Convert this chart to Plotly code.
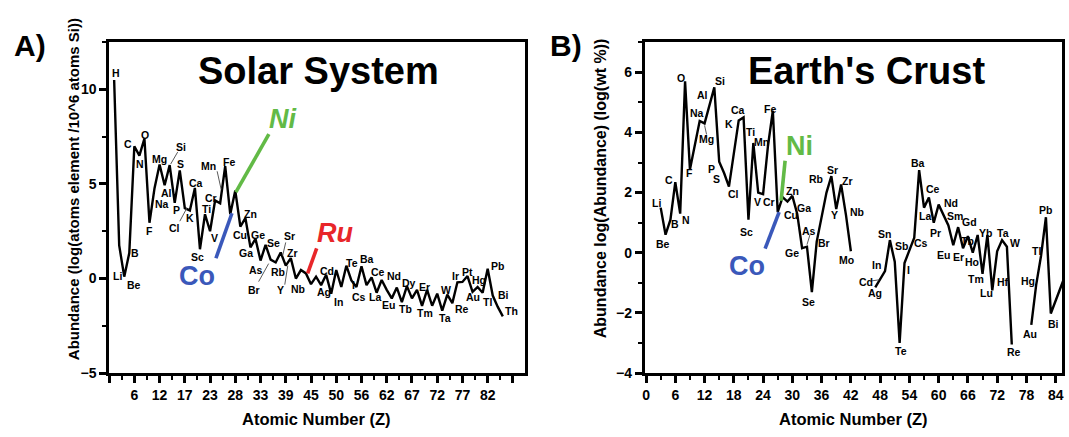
import plotly.graph_objects as go

# ---------------- data ----------------
# Panel A: Solar System abundances, log(atoms element / 10^6 atoms Si), plotted by element order
left_symbols = ["H", "Li", "Be", "B", "C", "N", "O", "F", "Na", "Mg", "Al", "Si", "P", "S", "Cl",
                "K", "Ca", "Sc", "Ti", "V", "Cr", "Mn", "Fe", "Co", "Ni", "Cu", "Zn", "Ga", "Ge",
                "As", "Se", "Br", "Rb", "Sr", "Y", "Zr", "Nb", "Mo", "Ru", "Rh", "Pd", "Ag", "Cd",
                "In", "Sn", "Sb", "Te", "I", "Cs", "Ba", "La", "Ce", "Pr", "Nd", "Sm", "Eu", "Gd",
                "Tb", "Dy", "Ho", "Er", "Tm", "Yb", "Lu", "Hf", "Ta", "W", "Re", "Os", "Ir", "Pt",
                "Au", "Hg", "Tl", "Pb", "Bi", "Th", "U"]
left_values = [10.5, 1.75, 0.1, 1.35, 7.0, 6.5, 7.4, 2.95, 4.78, 6.03, 4.93, 6.0, 4.0, 5.72, 3.72,
               3.6, 4.79, 1.55, 3.4, 2.5, 4.13, 3.98, 5.95, 3.4, 4.65, 2.75, 3.2, 1.65, 2.1,
               0.95, 1.78, 1.0, 0.85, 1.38, 0.68, 1.08, 0.0, 0.45, 0.27, -0.3, 0.1, -0.35, 0.2,
               -0.8, 0.45, -0.45, 0.68, -0.1, -0.45, 0.65, -0.35, 0.06, -0.75, -0.08, -0.6, -1.05, -0.48,
               -1.25, -0.4, -1.05, -0.6, -1.45, -0.6, -1.44, -0.8, -1.7, -0.85, -1.3, -0.2, -0.18, 0.13,
               -0.7, -0.45, -0.75, 0.52, -0.9, -1.5, -2.0]
left_tick_pos = [0, 5, 10, 15, 20, 25, 30, 35, 40, 45, 50, 55, 60, 65, 70, 75, 80]
left_tick_text = ["", "6", "12", "17", "23", "28", "33", "39", "45", "50", "56", "62", "67", "72",
                  "77", "82", ""]
left_labelled = ["H", "Li", "Be", "B", "C", "N", "O", "F", "Na", "Mg", "Al", "Si", "P", "S", "Cl",
                 "K", "Ca", "Sc", "Ti", "V", "Cr", "Mn", "Fe", "Cu", "Zn", "Ga", "Ge", "As", "Se",
                 "Br", "Rb", "Sr", "Y", "Zr", "Nb", "Ag", "Cd", "In", "Te", "I", "Cs", "Ba", "La",
                 "Ce", "Nd", "Eu", "Tb", "Dy", "Er", "Tm", "Ta", "W", "Re", "Ir", "Pt", "Au", "Hg",
                 "Tl", "Pb", "Bi", "Th"]

# Panel B: Earth's crust abundances, log(Abundance), plotted by atomic number
right_symbols = ["Li", "Be", "B", "C", "N", "O", "F", "Na", "Mg", "Al", "Si", "P", "S", "Cl",
                 "K", "Ca", "Sc", "Ti", "V", "Cr", "Mn", "Fe", "Co", "Ni", "Cu", "Zn", "Ga", "Ge",
                 "As", "Se", "Br", "Rb", "Sr", "Y", "Zr", "Nb", "Mo", "Ag", "Cd", "In", "Sn", "Sb",
                 "Te", "I", "Cs", "Ba", "La", "Ce", "Pr", "Nd", "Sm", "Eu", "Gd", "Tb", "Dy", "Ho",
                 "Er", "Tm", "Yb", "Lu", "Hf", "Ta", "W", "Re", "Au", "Hg", "Tl", "Pb", "Bi", "Th"]
right_z = [3, 4, 5, 6, 7, 8, 9, 11, 12, 13, 14, 15, 16, 17,
           19, 20, 21, 22, 23, 24, 25, 26, 27, 28, 29, 30, 31, 32,
           33, 34, 35, 37, 38, 39, 40, 41, 42, 47, 48, 49, 50, 51,
           52, 53, 55, 56, 57, 58, 59, 60, 62, 63, 64, 65, 66, 67,
           68, 69, 70, 71, 72, 73, 74, 75, 79, 80, 81, 82, 83, 90]
right_values = [1.5, 0.6, 1.1, 2.35, 1.3, 5.7, 2.77, 4.38, 4.3, 4.93, 5.5, 3.03, 2.65, 2.2,
                4.4, 4.5, 1.1, 3.65, 2.0, 1.95, 3.55, 4.72, 1.35, 1.85, 1.7, 1.89, 1.29, 0.15,
                0.2, -1.31, 0.37, 2.0, 2.55, 1.45, 2.27, 1.25, 0.05, -1.15, -0.9, -0.61, 0.42, -0.3,
                -3.0, -0.34, 0.5, 2.75, 1.5, 1.84, 1.0, 1.6, 0.91, 0.25, 0.85, 0.15, 0.55, 0.0,
                0.59, -0.7, 0.59, -1.25, 0.05, 0.42, 0.2, -3.05, -2.4, -1.07, -0.1, 1.18, -2.02, 0.98]
right_break_after = ["Mo", "Re"]
right_tick_pos = [0, 6, 12, 18, 24, 30, 36, 42, 48, 54, 60, 66, 72, 78, 84]
right_labelled = ["Li", "Be", "B", "C", "N", "O", "F", "Na", "Mg", "Al", "Si", "P", "S", "Cl",
                  "K", "Ca", "Sc", "Ti", "V", "Cr", "Mn", "Fe", "Cu", "Zn", "Ga", "Ge", "As", "Se",
                  "Br", "Rb", "Sr", "Y", "Zr", "Nb", "Mo", "Ag", "Cd", "In", "Sn", "Sb", "Te", "I",
                  "Cs", "Ba", "La", "Ce", "Pr", "Nd", "Sm", "Eu", "Gd", "Tb", "Ho", "Er", "Tm", "Yb",
                  "Lu", "Hf", "Ta", "W", "Re", "Au", "Hg", "Tl", "Pb", "Bi"]

# ---------------- label placement (pixel offsets: dx right, dy up) ----------------
left_label_offsets = {
    "H": (2, 7), "Li": (-2, -31), "Be": (10, -8), "B": (6, 0), "C": (-6, 2), "N": (1, -8),
    "O": (1, 4), "F": (0, -8), "Na": (7, -16), "Mg": (0, 6), "Al": (2, -8), "Si": (11, 18),
    "P": (2, -7), "S": (1, 6), "Cl": (-10, -20), "K": (0, -8), "Ca": (1, 5), "Sc": (-2, -8),
    "Ti": (1, 5), "V": (4, -7), "Cr": (-4, 2), "Mn": (-12, 37), "Fe": (4, 4), "Cu": (0, -8),
    "Zn": (5, 4), "Ga": (-4, -6), "Ge": (3, 4), "As": (-5, -9), "Se": (8, 2), "Br": (-17, -30),
    "Rb": (2, -10), "Sr": (9, 16), "Y": (-5, -24), "Zr": (2, 5), "Nb": (2, -10), "Ag": (3, -7),
    "Cd": (1, 4), "In": (7, -8), "Te": (6, 3), "I": (2, -5), "Cs": (3, -10), "Ba": (6, 7),
    "La": (8, -12), "Ce": (6, 5), "Nd": (12, 4), "Eu": (-3, -7), "Tb": (4, -7), "Dy": (2, 3),
    "Er": (7, 3), "Tm": (3, -7), "Ta": (3, -7), "W": (-1, 5), "Re": (10, -6), "Ir": (-7, 6),
    "Pt": (0, 4), "Au": (0, -5), "Hg": (1, 7), "Tl": (5, -9), "Pb": (10, 3), "Bi": (11, 1),
    "Th": (14, -4),
}
left_leaders = {"Si": (8, 13, 1, 1), "Mn": (-3, 32, 1, 14), "Cl": (-5, -13, 2, 0),
                "Br": (-12, -22, -2, -4), "Sr": (5, 10, 2, -3), "Y": (-1, -19, 2, 0)}

right_label_offsets = {
    "Li": (-4, 5), "Be": (-3, -9), "B": (5, -4), "C": (-6, 2), "N": (6, -6), "O": (-4, 3),
    "F": (0, -4), "Na": (-3, 8), "Mg": (2, -16), "Al": (-7, 9), "Si": (6, 6), "P": (-8, -7),
    "S": (-8, -6), "Cl": (5, -7), "K": (-10, -4), "Ca": (-6, 7), "Sc": (-2, -12), "Ti": (-3, 11),
    "V": (-1, -9), "Cr": (6, -8), "Mn": (-6, 4), "Fe": (-3, 2), "Cu": (4, -13), "Zn": (0, 5),
    "Ga": (7, 6), "Ge": (-10, -5), "As": (2, 16), "Se": (-3, -10), "Br": (7, -1), "Rb": (-10, 14),
    "Sr": (1, 6), "Y": (-2, -6), "Zr": (6, 3), "Nb": (11, 3), "Mo": (-4, -9), "Ag": (0, -6),
    "Cd": (-14, -2), "In": (-8, 6), "Sn": (-5, 6), "Sb": (7, 16), "Te": (1, -8), "I": (4, -7),
    "Cs": (7, -5), "Ba": (-1, 7), "La": (1, -8), "Ce": (4, 8), "Pr": (2, -10), "Nd": (12, 2),
    "Sm": (7, 9), "Eu": (-10, -10), "Gd": (11, 5), "Tb": (4, 7), "Ho": (-1, -9), "Er": (-19, -22),
    "Tm": (-7, -5), "Yb": (-2, 2), "Lu": (-6, -3), "Hf": (6, -31), "Ta": (1, 7), "W": (8, 4),
    "Re": (2, -8), "Au": (-1, -9), "Hg": (-8, 4), "Tl": (-5, 5), "Pb": (0, 7), "Bi": (3, -11),
}
right_leaders = {"Mg": (2, -11, 0, -2), "As": (3, 12, 0, 2), "Cd": (-8, -1, -1, 0)}

GREEN = "rgb(98,186,70)"
BLUE = "rgb(58,88,186)"
RED = "rgb(232,38,42)"
# highlighted elements: (panel, symbol, color, italic, line offsets, text offset)
highlights = [
    ("L", "Ni", GREEN, True, (0.6, -1.6, 33.6, 56.4), (47.6, 71.4)),
    ("L", "Co", BLUE, False, (1.7, 1.0, -14.3, -44.0), (-33.0, -62.0)),
    ("L", "Ru", RED, True, (1.7, 0.0, 10.7, 25.0), (29.0, 40.0)),
    ("R", "Ni", GREEN, False, (-1.5, -3.7, 2.5, 36.3), (16.5, 51.0)),
    ("R", "Co", BLUE, False, (1.4, 0.0, -12.6, -36.4), (-30.6, -53.4)),
]

# ---------------- figure ----------------
W, H = 1069, 437
FONT = "Arial, Liberation Sans, Helvetica, sans-serif"

left_x = list(range(1, len(left_symbols) + 1))
left_pt = {s: (x, v) for s, x, v in zip(left_symbols, left_x, left_values)}
right_pt = {s: (z, v) for s, z, v in zip(right_symbols, right_z, right_values)}

rx, ry = [], []
for s, z, v in zip(right_symbols, right_z, right_values):
    rx.append(z)
    ry.append(v)
    if s in right_break_after:
        rx.append(None)
        ry.append(None)

fig = go.Figure()
fig.add_trace(go.Scatter(x=left_x, y=left_values, mode="lines", xaxis="x", yaxis="y",
                         line=dict(color="black", width=2.4), showlegend=False, hoverinfo="skip"))
fig.add_trace(go.Scatter(x=rx, y=ry, mode="lines", xaxis="x2", yaxis="y2", connectgaps=False,
                         line=dict(color="black", width=2.4), showlegend=False, hoverinfo="skip"))

annotations = []
shapes = []
lab_font = dict(family=FONT, size=10.5, color="black", weight="bold")


def add_labels(names, pts, offsets, xr, yr):
    for s in names:
        x, v = pts[s]
        dx, dy = offsets.get(s, (0, 6))
        annotations.append(dict(x=x, y=v, xref=xr, yref=yr, text=s, showarrow=False,
                                xshift=dx, yshift=dy, font=lab_font,
                                xanchor="center", yanchor="middle"))


def add_leaders(leaders, pts, xr, yr, color="rgb(90,90,90)", width=1.0):
    for s, (x0, y0, x1, y1) in leaders.items():
        x, v = pts[s]
        shapes.append(dict(type="line", xref=xr, yref=yr, xsizemode="pixel", ysizemode="pixel",
                           xanchor=x, yanchor=v, x0=x0, y0=y0, x1=x1, y1=y1,
                           line=dict(color=color, width=width)))


add_labels(left_labelled, left_pt, left_label_offsets, "x", "y")
add_labels(right_labelled, right_pt, right_label_offsets, "x2", "y2")
add_leaders(left_leaders, left_pt, "x", "y")
add_leaders(right_leaders, right_pt, "x2", "y2")

for panel, s, col, italic, (x0, y0, x1, y1), (tx, ty) in highlights:
    pts, xr, yr = (left_pt, "x", "y") if panel == "L" else (right_pt, "x2", "y2")
    x, v = pts[s]
    shapes.append(dict(type="line", xref=xr, yref=yr, xsizemode="pixel", ysizemode="pixel",
                       xanchor=x, yanchor=v, x0=x0, y0=y0, x1=x1, y1=y1,
                       line=dict(color=col, width=3.6)))
    annotations.append(dict(x=x, y=v, xref=xr, yref=yr, text=s, showarrow=False,
                            xshift=tx, yshift=ty,
                            font=dict(family=FONT, size=27, color=col, weight="bold",
                                      style="italic" if italic else "normal"),
                            xanchor="center", yanchor="middle"))


def paper(px, py, text, size, angle=0):
    annotations.append(dict(x=px / W, y=1 - py / H, xref="paper", yref="paper", text=text,
                            showarrow=False, textangle=angle, xanchor="center", yanchor="middle",
                            font=dict(family=FONT, size=size, color="black", weight="bold")))


paper(28, 46, "A)", 30)
paper(566, 46, "B)", 30)
paper(318, 72, "Solar System", 38)
paper(868, 72, "Earth's Crust", 38)
paper(72, 193, "Abundance (log(atoms element /10^6 atoms Si))", 15, -90)
paper(601, 192, "Abundance log(Abundance) (log(wt %))", 16, -90)
paper(316, 427, "Atomic Number (Z)", 16.5)
paper(855, 427, "Atomic Number (Z)", 16.5)

tick_font = dict(family=FONT, size=14, color="black", weight="bold")
axis_common = dict(showline=True, linecolor="black", linewidth=2.5, mirror=True,
                   ticks="outside", ticklen=7, tickwidth=2.5, tickcolor="black",
                   showgrid=False, zeroline=False, tickfont=tick_font, fixedrange=True)
minor_common = dict(ticks="outside", ticklen=4, tickwidth=2, tickcolor="black", showgrid=False)

fig.update_layout(
    width=W, height=H,
    margin=dict(l=0, r=0, t=0, b=0),
    paper_bgcolor="white", plot_bgcolor="white",
    showlegend=False,
    xaxis=dict(domain=[107.5 / W, 525 / W], range=[0, 82.4], anchor="y",
               tickmode="array", tickvals=left_tick_pos, ticktext=left_tick_text,
               minor=dict(tick0=0, dtick=2.5, **minor_common), **axis_common),
    yaxis=dict(domain=[1 - 380 / H, 1 - 43 / H], range=[-5, 12.5], anchor="x",
               tickmode="array", tickvals=[-5, 0, 5, 10],
               minor=dict(tick0=0, dtick=2.5, **minor_common), **axis_common),
    xaxis2=dict(domain=[645 / W, 1064 / W], range=[-0.3, 85.3], anchor="y2",
                tickmode="array", tickvals=right_tick_pos,
                minor=dict(tick0=0, dtick=3, **minor_common), **axis_common),
    yaxis2=dict(domain=[1 - 380 / H, 1 - 43 / H], range=[-4, 7], anchor="x2",
                tickmode="array", tickvals=[-4, -2, 0, 2, 4, 6],
                minor=dict(tick0=0, dtick=1, **minor_common), **axis_common),
    annotations=annotations,
    shapes=shapes,
)

fig.write_html("out.html")
